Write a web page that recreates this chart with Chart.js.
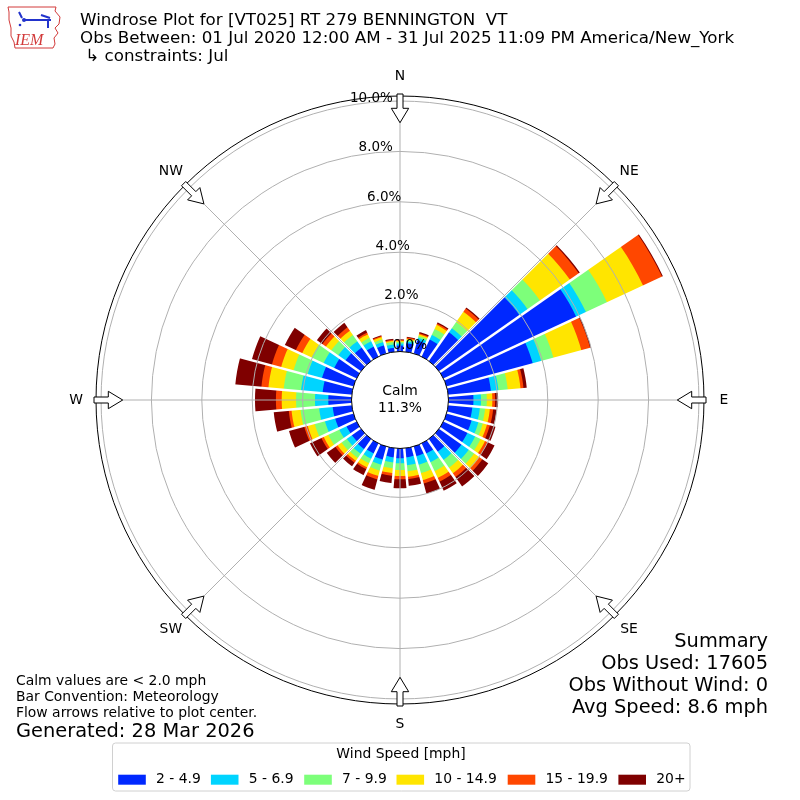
<!DOCTYPE html>
<html lang="en">
<head>
    <meta charset="UTF-8">
    <title>Windrose Plot for [VT025] RT 279 BENNINGTON VT</title>
    <script src="https://cdn.jsdelivr.net/npm/chart.js"></script>
    <style>
        body, html {
            margin: 0;
            padding: 0;
            background: #ffffff;
            overflow: hidden;
        }
        canvas {
            display: block;
        }
    </style>
</head>
<body>
    <canvas id="windRose" width="800" height="800"></canvas>

    <script>
        // direction bins (degrees, centre of each 10 degree sector)
        const directions = [0, 10, 20, 30, 40, 50, 60, 70, 80, 90, 100, 110, 120, 130, 140, 150, 160, 170,
                            180, 190, 200, 210, 220, 230, 240, 250, 260, 270, 280, 290, 300, 310, 320, 330, 340, 350];

        const speedBins = ['2 - 4.9', '5 - 6.9', '7 - 9.9', '10 - 14.9', '15 - 19.9', '20+'];
        const speedColors = ['#0028ff', '#00d4ff', '#7dff7a', '#ffe500', '#ff4700', '#7f0000'];

        // percent of observations per direction for each speed bin
        const freq2to5   = [0.30, 0.40, 0.60, 0.81, 1.45, 3.95, 5.87, 3.60, 1.76, 1.05, 1.02, 1.09, 1.11, 1.15, 0.67, 0.50, 0.46, 0.42,
                            0.45, 0.42, 0.60, 0.50, 0.55, 0.50, 0.50, 0.81, 0.82, 0.98, 1.22, 1.35, 1.04, 0.81, 0.71, 0.50, 0.39, 0.22];
        const freq5to7   = [0.08, 0.07, 0.10, 0.20, 0.20, 0.40, 0.43, 0.35, 0.30, 0.30, 0.30, 0.28, 0.34, 0.35, 0.40, 0.38, 0.35, 0.31,
                            0.20, 0.20, 0.21, 0.23, 0.23, 0.25, 0.32, 0.42, 0.54, 0.53, 0.86, 0.59, 0.46, 0.35, 0.31, 0.23, 0.14, 0.13];
        const freq7to10  = [0.06, 0.06, 0.08, 0.26, 0.30, 0.60, 0.92, 0.50, 0.37, 0.23, 0.21, 0.18, 0.24, 0.26, 0.38, 0.39, 0.35, 0.25,
                            0.26, 0.24, 0.24, 0.20, 0.20, 0.25, 0.48, 0.42, 0.74, 0.75, 0.69, 0.58, 0.53, 0.34, 0.30, 0.15, 0.11, 0.10];
        const freq10to15 = [0.05, 0.05, 0.07, 0.18, 0.50, 1.45, 1.58, 1.15, 0.51, 0.22, 0.19, 0.17, 0.19, 0.26, 0.27, 0.30, 0.28, 0.22,
                            0.24, 0.19, 0.22, 0.18, 0.14, 0.20, 0.20, 0.29, 0.36, 0.57, 0.61, 0.51, 0.41, 0.26, 0.21, 0.16, 0.09, 0.05];
        const freq15to20 = [0.03, 0.04, 0.04, 0.06, 0.15, 0.43, 0.83, 0.36, 0.12, 0.11, 0.13, 0.12, 0.12, 0.14, 0.18, 0.16, 0.14, 0.09,
                            0.13, 0.11, 0.14, 0.08, 0.09, 0.10, 0.10, 0.14, 0.11, 0.23, 0.28, 0.38, 0.28, 0.17, 0.16, 0.07, 0.04, 0.04];
        const freq20plus = [0.03, 0.03, 0.05, 0.05, 0.05, 0.05, 0.04, 0.04, 0.13, 0.12, 0.14, 0.23, 0.30, 0.29, 0.46, 0.40, 0.42, 0.27,
                            0.36, 0.29, 0.43, 0.26, 0.17, 0.42, 0.50, 0.63, 0.60, 0.83, 1.04, 0.82, 0.48, 0.27, 0.22, 0.11, 0.04, 0.04];

        const radialTicks = [0, 2, 4, 6, 8, 10];
        const compassLabels = ['N', 'NE', 'E', 'SE', 'S', 'SW', 'W', 'NW'];
        const calmPercent = 11.3;

        const titleLines = [
            'Windrose Plot for [VT025] RT 279 BENNINGTON  VT',
            'Obs Between: 01 Jul 2020 12:00 AM - 31 Jul 2025 11:09 PM America/New_York',
            ' \u21b3 constraints: Jul'
        ];
        const summaryLines = ['Summary', 'Obs Used: 17605', 'Obs Without Wind: 0', 'Avg Speed: 8.6 mph'];
        const noteLines = ['Calm values are < 2.0 mph', 'Bar Convention: Meteorology', 'Flow arrows relative to plot center.'];
        const generatedText = 'Generated: 28 Mar 2026';

        // radial axis: the calm circle occupies the middle, outer frame a bit past 10%
        const R_MIN = -1.865;
        const R_MAX = 10.2;
        const FONT = '"DejaVu Sans", sans-serif';

        // polarArea has no stacking, so stack by drawing cumulative sectors on top of each other
        const bins = [freq2to5, freq5to7, freq7to10, freq10to15, freq15to20, freq20plus];
        let running = directions.map(() => 0);
        const datasets = bins.map((arr, k) => {
            running = running.map((v, i) => Math.round((v + arr[i]) * 100) / 100);
            return {
                label: speedBins[k],
                data: running.slice(),
                backgroundColor: speedColors[k],
                borderWidth: 0
            };
        });

        function compassAngle(k) {
            return (k * 45 - 90) * Math.PI / 180;
        }

        const rosePlugin = {
            id: 'rose',
            afterDatasetsDraw(chart) {
                // white separators between direction sectors
                const s = chart.scales.r;
                const ctx = chart.ctx;
                const r0 = s.getDistanceFromCenterForValue(0);
                ctx.save();
                ctx.strokeStyle = '#ffffff';
                ctx.lineWidth = 2.5;
                for (let i = 0; i < directions.length; i++) {
                    const a = s.getPointPosition(i, r0);
                    const b = s.getPointPosition(i, s.drawingArea);
                    ctx.beginPath();
                    ctx.moveTo(a.x, a.y);
                    ctx.lineTo(b.x, b.y);
                    ctx.stroke();
                }
                ctx.restore();
            },
            afterDraw(chart) {
                const s = chart.scales.r;
                const ctx = chart.ctx;
                const cx = s.xCenter, cy = s.yCenter;
                const r0 = s.getDistanceFromCenterForValue(0);
                const R = s.drawingArea;
                ctx.save();

                // angle lines
                ctx.strokeStyle = '#b0b0b0';
                ctx.lineWidth = 1;
                for (let k = 0; k < 8; k++) {
                    const a = compassAngle(k);
                    ctx.beginPath();
                    ctx.moveTo(cx + r0 * Math.cos(a), cy + r0 * Math.sin(a));
                    ctx.lineTo(cx + R * Math.cos(a), cy + R * Math.sin(a));
                    ctx.stroke();
                }

                // calm circle
                ctx.beginPath();
                ctx.arc(cx, cy, r0 + 1.5, 0, Math.PI * 2);
                ctx.fillStyle = '#ffffff';
                ctx.fill();
                ctx.strokeStyle = '#000000';
                ctx.lineWidth = 1;
                ctx.stroke();

                ctx.fillStyle = '#000000';
                ctx.font = '13.9px ' + FONT;
                ctx.textAlign = 'center';
                ctx.textBaseline = 'middle';
                ctx.fillText('Calm', cx, cy - 9);
                ctx.fillText(calmPercent.toFixed(1) + '%', cx, cy + 8);

                // flow arrows and compass labels
                for (let k = 0; k < 8; k++) {
                    const a = compassAngle(k);
                    const ux = Math.cos(a), uy = Math.sin(a);
                    const vx = -uy, vy = ux;
                    const pts = [
                        [R + 2, -3], [R - 12.3, -3], [R - 12.3, -8.7], [R - 26.7, 0],
                        [R - 12.3, 8.7], [R - 12.3, 3], [R + 2, 3]
                    ];
                    ctx.beginPath();
                    pts.forEach((p, j) => {
                        const x = cx + p[0] * ux + p[1] * vx;
                        const y = cy + p[0] * uy + p[1] * vy;
                        if (j === 0) ctx.moveTo(x, y); else ctx.lineTo(x, y);
                    });
                    ctx.closePath();
                    ctx.fillStyle = '#ffffff';
                    ctx.fill();
                    ctx.strokeStyle = '#000000';
                    ctx.lineWidth = 1;
                    ctx.stroke();

                    ctx.fillStyle = '#000000';
                    ctx.font = '13.9px ' + FONT;
                    ctx.textAlign = 'center';
                    ctx.textBaseline = 'middle';
                    ctx.fillText(compassLabels[k], cx + (R + 20) * ux, cy + (R + 20) * uy);
                }

                // radial tick labels
                ctx.font = '13.5px ' + FONT;
                ctx.textAlign = 'left';
                ctx.textBaseline = 'middle';
                radialTicks.forEach(v => {
                    const r = s.getDistanceFromCenterForValue(v);
                    ctx.fillText(v.toFixed(1) + '%', cx - 7.3 - 4.27 * v, cy - r - 8 + 0.53 * v);
                });

                // header
                ctx.textBaseline = 'alphabetic';
                ctx.font = '16.7px ' + FONT;
                ctx.fillText(titleLines[0], 80, 25);
                ctx.fillText(titleLines[1], 80, 42.5);
                ctx.fillText(titleLines[2], 80, 60.5);

                // summary block
                ctx.textAlign = 'right';
                ctx.font = '19.4px ' + FONT;
                summaryLines.forEach((t, i) => ctx.fillText(t, 768, 647 + i * 22));

                // notes
                ctx.textAlign = 'left';
                ctx.font = '13.9px ' + FONT;
                noteLines.forEach((t, i) => ctx.fillText(t, 16, 685 + i * 16));
                ctx.font = '19.4px ' + FONT;
                ctx.fillText(generatedText, 16, 737);

                drawLegend(ctx, chart);
                drawLogo(ctx);
                ctx.restore();
            }
        };

        function drawLegend(ctx, chart) {
            const patchX = [118.2, 210.9, 304.2, 396.5, 507.7, 618.4];
            ctx.save();
            ctx.beginPath();
            ctx.roundRect(112.5, 743, 577.5, 48, 3);
            ctx.fillStyle = 'rgba(255,255,255,0.8)';
            ctx.fill();
            ctx.strokeStyle = '#d0d0d0';
            ctx.lineWidth = 1;
            ctx.stroke();

            ctx.fillStyle = '#000000';
            ctx.font = '13.9px ' + FONT;
            ctx.textAlign = 'center';
            ctx.textBaseline = 'middle';
            ctx.fillText('Wind Speed [mph]', 401, 754);

            ctx.textAlign = 'left';
            chart.data.datasets.forEach((ds, i) => {
                ctx.fillStyle = ds.backgroundColor;
                ctx.fillRect(patchX[i], 774.7, 27.6, 10);
                ctx.fillStyle = '#000000';
                ctx.fillText(ds.label, patchX[i] + 37.8, 779.7);
            });
            ctx.restore();
        }

        function drawLogo(ctx) {
            // small IEM badge in the corner
            ctx.save();
            ctx.strokeStyle = '#d23a3a';
            ctx.lineWidth = 1;
            ctx.beginPath();
            const outline = [[8, 7], [56, 7], [55, 11], [60, 17], [59, 24], [55, 28], [58, 33], [54, 38],
                             [55, 44], [53, 48], [15, 48], [14, 42], [11, 36], [11, 28], [9, 20], [9, 12]];
            outline.forEach((p, j) => { if (j === 0) ctx.moveTo(p[0], p[1]); else ctx.lineTo(p[0], p[1]); });
            ctx.closePath();
            ctx.stroke();

            ctx.strokeStyle = '#2233cc';
            ctx.lineWidth = 2;
            ctx.beginPath();
            ctx.moveTo(24, 20); ctx.lineTo(51, 20);
            ctx.moveTo(19, 12); ctx.lineTo(22, 18);
            ctx.moveTo(41, 15); ctx.lineTo(50, 18);
            ctx.moveTo(48, 20); ctx.lineTo(48, 28);
            ctx.stroke();
            ctx.fillStyle = '#2233cc';
            ctx.beginPath(); ctx.arc(24, 20, 2, 0, Math.PI * 2); ctx.fill();
            ctx.beginPath(); ctx.arc(20, 25, 1.3, 0, Math.PI * 2); ctx.fill();

            ctx.fillStyle = '#d23a3a';
            ctx.font = 'italic 16px "Liberation Serif", serif';
            ctx.textAlign = 'left';
            ctx.textBaseline = 'alphabetic';
            ctx.fillText('IEM', 15, 45);
            ctx.restore();
        }

        const ctx = document.getElementById('windRose').getContext('2d');

        new Chart(ctx, {
            type: 'polarArea',
            data: {
                labels: directions.map(d => d + '\u00b0'),
                datasets: datasets
            },
            options: {
                responsive: false,
                animation: false,
                layout: {
                    padding: 96
                },
                scales: {
                    r: {
                        min: R_MIN,
                        max: R_MAX,
                        startAngle: -5,
                        afterBuildTicks: (scale) => {
                            scale.ticks = radialTicks.concat([R_MAX]).map(v => ({ value: v }));
                        },
                        ticks: {
                            display: false
                        },
                        angleLines: {
                            display: false
                        },
                        pointLabels: {
                            display: false
                        },
                        grid: {
                            z: 1,
                            circular: true,
                            color: (c) => {
                                const v = c.tick ? c.tick.value : 0;
                                if (v > 10.05) return '#000000';
                                if (v > 0) return '#b0b0b0';
                                return 'rgba(0,0,0,0)';
                            },
                            lineWidth: 1
                        }
                    }
                },
                plugins: {
                    legend: { display: false },
                    tooltip: { enabled: false }
                }
            },
            plugins: [rosePlugin]
        });
    </script>
</body>
</html>
